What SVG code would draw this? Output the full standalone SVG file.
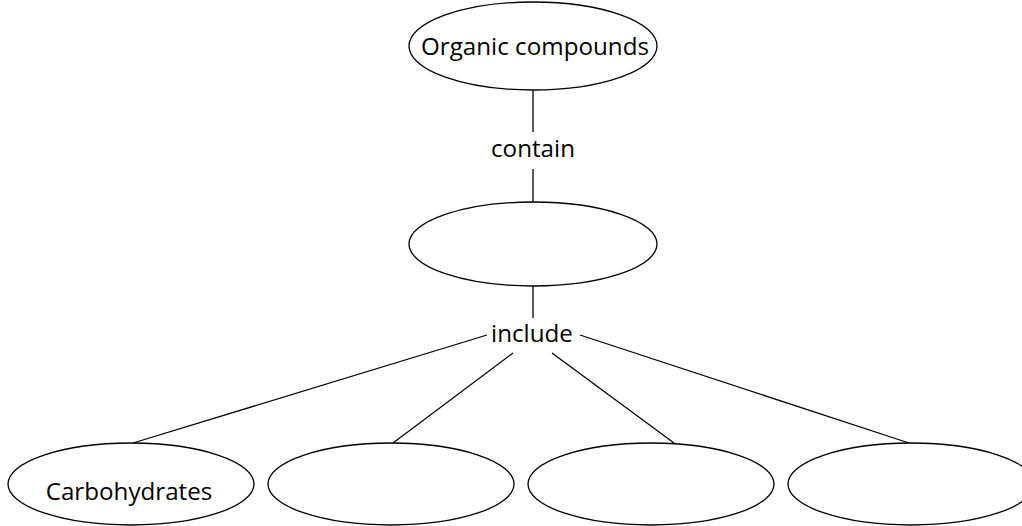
<svg xmlns="http://www.w3.org/2000/svg" width="1022" height="526" viewBox="0 0 1022 526">
<style>
.node ellipse{fill:#fff;stroke:#000;stroke-width:1.3}
text{font-family:"Open Sans","DejaVu Sans",sans-serif;font-size:24.2px;fill:#000;text-anchor:middle}
#connectors line{stroke:#000;stroke-width:1.3}
</style>
<rect width="1022" height="526" fill="#fff"/>
<g id="connectors">
<line x1="533" y1="90" x2="533" y2="132"/>
<line x1="533" y1="169" x2="533" y2="202"/>
<line x1="533" y1="286" x2="533" y2="318"/>
<line x1="487" y1="335" x2="133" y2="443"/>
<line x1="513" y1="353" x2="393" y2="443"/>
<line x1="552" y1="353" x2="674" y2="443"/>
<line x1="580" y1="335" x2="909" y2="443"/>
</g>
<g id="label-contain"><text x="533" y="157">contain</text></g>
<g id="label-include"><text x="532" y="342">include</text></g>
<g id="node-organic" class="node"><ellipse cx="533" cy="46" rx="124" ry="44"/><text x="535" y="55">Organic compounds</text></g>
<g id="node-middle" class="node"><ellipse cx="533" cy="244" rx="124" ry="42"/></g>
<g id="node-carbohydrates" class="node"><ellipse cx="131" cy="484" rx="123" ry="41"/><text x="129" y="500">Carbohydrates</text></g>
<g id="node-b2" class="node"><ellipse cx="391" cy="484" rx="123" ry="41"/></g>
<g id="node-b3" class="node"><ellipse cx="651" cy="484" rx="123" ry="41"/></g>
<g id="node-b4" class="node"><ellipse cx="911" cy="484" rx="123" ry="41"/></g>
</svg>
